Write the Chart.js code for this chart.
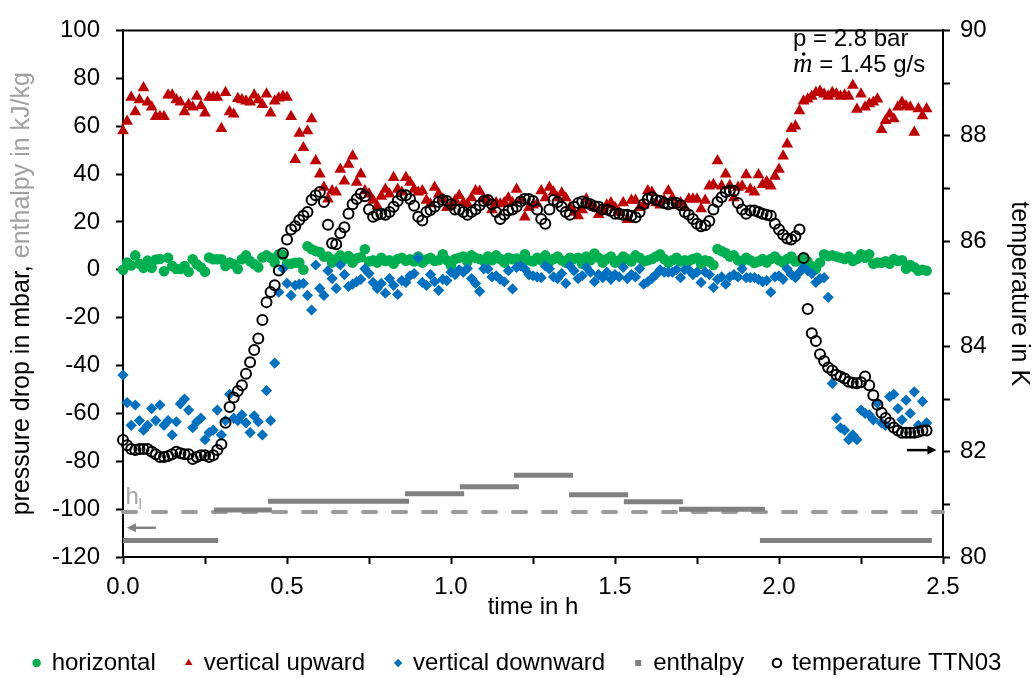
<!DOCTYPE html>
<html lang="en">
<head>
<meta charset="UTF-8">
<title>Pressure drop and temperature, p = 2.8 bar</title>
<style>
  html, body { margin: 0; padding: 0; background: #fff; }
  #wrap { width: 1035px; height: 678px; }
</style>
</head>
<body>
<div id="wrap"><canvas id="chart" width="1035" height="678"></canvas></div>
<script src="https://cdn.jsdelivr.net/npm/chart.js@4/dist/chart.umd.min.js"></script>
<script>
// samples every 45 s (0.0125 h), from 0 to 2.45 h
const STEP_H = 0.0125;

// pressure drop in mbar
const horizontal = [
  0, 3, 1.8, 6, 2.5, 0.8, 3.8, 0.8, 4.3, 4.5,
  -0.6, 5, 1.6, 0.3, 0.3, 1.6, -0.8, 4.4, 2.3, 1,
  -0.8, 5.1, 4.4, 4.4, 4.4, 1.6, 3, 2.3, 0.3, 4.4,
  6, 3.6, 2.3, 1, 5.1, 6, 5, 3, 6.5, 6.1,
  2.5, 2.5, 2.9, 3, 0, 9.8, 8.6, 7.8, 7.4, 5.5,
  5.5, 3, 4.5, 6, 4.4, 5.7, 3, 4.8, 5.2, 8.6,
  3.5, 4, 3, 5, 3.7, 4, 2.5, 4.5, 5, 3.8,
  4.4, 3.5, 5.5, 3, 4.3, 5, 3.7, 4, 6.5, 4,
  1.8, 4.5, 5, 5.5, 3.5, 6, 5, 4.5, 3.7, 5.5,
  4, 6, 4.5, 3, 5, 4.4, 4.7, 3.5, 6.5, 4,
  3.5, 5, 4, 6, 3.5, 4.5, 5.5, 4, 3, 5,
  4.5, 5, 2.5, 5.5, 4, 6.8, 5, 3, 4.5, 5.5,
  3, 4, 5.5, 4.5, 3.5, 6, 5, 3.5, 4, 4.5,
  5.5, 6.5, 4.5, 3, 4, 5, 3.5, 4, 3.7, 4.5,
  5, 2.5, 4, 3.5, 2, 8.7, 7.8, 7, 5.5, 6,
  4, 3.5, 5, 4, 2.8, 3.5, 4.5, 3, 4.5, 5.5,
  4, 3, 4.5, 5.5, 3.5, 4, 5, 3.5, 1.5, 0.4,
  3, 6.5, 5.7, 6, 5.5, 5, 4.5, 5.5, 3.7, 4.5,
  6.5, 5, 6.5, 2.5, 3, 2.9, 3.5, 2.5, 4.5, 3.7,
  4, 0.4, 2, 1, -0.4, 0, -0.4
];

const verticalUpward = [
  58, 62, 72, 66, 71, 76, 70, 68, 64, 64,
  64, 73, 73, 71, 70, 66, 69, 68, 72.5, 68.5,
  65.5, 72, 72, 72, 59, 74, 66, 65, 71.5, 71,
  70.5, 70, 73, 71, 69, 73.4, 65.5, 70.5, 71.7, 72.5,
  72, 64, 46, 57, 51, 58, 63, 45.5, 40, 34.4,
  29.5, 33, 32.4, 42, 37, 44, 47.5, 36.5, 40, 33,
  31.6, 29, 26.6, 30.7, 33.6, 31.6, 38.5, 33.6, 32.4, 38.5,
  36.5, 33.6, 32.4, 33, 29, 27.5, 34.4, 31.6, 29.5, 26,
  27, 29, 31, 28, 27.5, 30, 33, 32.8, 29.5, 29,
  25, 28, 27.5, 28, 30, 28, 33.6, 29, 22, 26,
  27, 27.5, 33, 30, 34.4, 32.4, 30, 32, 30, 26,
  24, 22.5, 25, 29.5, 27, 26, 23, 25, 27, 28,
  26, 24, 28, 21, 29, 29, 26, 27, 33, 32.4,
  28, 27, 29, 33, 30, 27, 28, 26, 29.5, 29.5,
  29.5, 25.4, 29, 35, 35.6, 45.5, 35, 40, 35.2, 30,
  34.4, 35, 39.7, 33.6, 32.4, 39.7, 35.6, 36.8, 35, 39,
  42, 47.5, 52.5, 59, 60, 66.4, 70.5, 71.3, 72.5, 74,
  74.6, 73.4, 72.5, 74, 73.4, 72.5, 73, 72.5, 77, 67,
  73.4, 68, 69.3, 70, 71.3, 58.6, 62.3, 65, 63, 68,
  70, 68.4, 68, 57.4, 67.2, 64.3, 67.2
];

const verticalDownward = [
  -44, -55.5, -65, -56.5, -63, -67, -65, -58, -63, -56.5,
  -65, -63, -69, -63.5, -56, -54, -58.6, -66, -63.5, -62,
  -71, -68, -67, -58.6, -69, -63, -52, -62, -63, -60.6,
  -64, -68, -61, -63.5, -69, -50.5, -63, -39, -9.4, 0.4,
  -5.7, -10.7, -6.5, -6, -5.7, -10.7, -16.8, 2, -7.8, -10.7,
  -0.4, -3.7, -7.8, 2, -2, -7, -6, -5, -4, 0.4,
  -1.6, -5.3, -7.8, -5.7, -9.8, -3.7, -6.5, -10.3, -4.5, -5.3,
  -2.5, -1.6, 5, -5.3, -6.5, -2, -5, -8.6, -4, -4.5,
  -1, -2, 0, -1, 0.5, -3.7, -5.7, -9, 0.4, 0.4,
  -3, -2.5, -4, -5, -0.4, -8, 1, 1.6, 0.4, -2,
  -2.5, -3, -3.3, 1.6, 0.4, -3, -3.7, -1.6, -5.7, 1.6,
  -0.4, -3.7, -2.5, 1, -1, -5, -2, -3.3, -1, -4,
  -2, -3, 1, -3.7, -2, -3, 0.4, -6, -5, -3.7,
  -2, 0, -1, -1, -1, 0, -3.3, 0, 0, -2,
  -1, -5.3, -1, -2, -7.4, -4, -3, -6, -3, -2,
  -3, 0.4, -3.3, -3.3, -3.3, -4, -5, -4.5, -9.4, -3,
  -2.5, -4, 0.4, -2, -3.3, -1, 1, -0.4, -1.6, -5.3,
  -3.7, -3.3, -11.5, -47.5, -62, -66, -67, -71, -69, -71,
  -58.6, -60, -60.6, -62.7, -55.7, -64, -65, -53, -52, -58,
  -62.7, -54.5, -60, -51, -65, -55, -64
];

// temperature TTN03 in K
const temperature = [
  82.22, 82.12, 82.05, 82.03, 82.05, 82.05, 82.05, 82.0, 81.95, 81.9,
  81.9, 81.92, 81.95, 82.0, 81.97, 81.95, 81.95, 81.86, 81.9, 81.93,
  81.93, 81.9, 81.93, 82.03, 82.14, 82.55, 82.85, 83.03, 83.15, 83.26,
  83.48, 83.7, 83.93, 84.15, 84.5, 84.84, 85.03, 85.16, 85.44, 85.77,
  86.03, 86.22, 86.28, 86.4, 86.48, 86.55, 86.78, 86.87, 86.93, 86.74,
  86.31, 85.96, 85.94, 86.15, 86.26, 86.52, 86.7, 86.8, 86.9, 86.85,
  86.6, 86.46, 86.5, 86.52, 86.5, 86.55, 86.65, 86.76, 86.87, 86.87,
  86.8, 86.67, 86.46, 86.39, 86.55, 86.59, 86.65, 86.74, 86.78, 86.76,
  86.7, 86.6, 86.6, 86.55, 86.5, 86.55, 86.6, 86.68, 86.76, 86.78,
  86.7, 86.55, 86.42, 86.5, 86.58, 86.6, 86.65, 86.75, 86.8, 86.8,
  86.76, 86.6, 86.42, 86.33, 86.6, 86.78, 86.74, 86.65, 86.55, 86.5,
  86.65, 86.72, 86.75, 86.72, 86.7, 86.66, 86.65, 86.6, 86.6, 86.57,
  86.52, 86.52, 86.5, 86.5, 86.48, 86.45, 86.55, 86.7, 86.8, 86.83,
  86.78, 86.76, 86.72, 86.7, 86.72, 86.72, 86.68, 86.55, 86.5, 86.42,
  86.33, 86.28, 86.3, 86.38, 86.6, 86.74, 86.83, 86.93, 86.96, 86.95,
  86.72, 86.6, 86.52, 86.58, 86.58, 86.55, 86.52, 86.5, 86.48, 86.33,
  86.22, 86.12, 86.05, 86.03, 86.09, 86.22, 85.68, 84.71, 84.25, 84.1,
  83.85, 83.72, 83.6, 83.54, 83.46, 83.43, 83.39, 83.33, 83.31, 83.3,
  83.32, 83.43, 83.26, 83.07, 82.89, 82.74, 82.64, 82.55, 82.46, 82.4,
  82.36, 82.36, 82.36, 82.36, 82.38, 82.4, 82.4
];

// enthalpy steps in kJ/kg (start h, end h, value)
const enthalpyStart = [0, 0.277, 0.442, 0.860, 1.027, 1.192, 1.360, 1.527, 1.695, 1.942];
const enthalpyEnd   = [0.290, 0.454, 0.872, 1.040, 1.207, 1.372, 1.540, 1.707, 1.957, 2.466];
const enthalpyValue = [-113.1, -100.4, -96.7, -93.6, -90.6, -85.8, -94.0, -96.9, -100.1, -113.1];
const liquidEnthalpy = -101.2;   // h_l

const FONT = '"Liberation Sans", Arial, sans-serif';
Chart.defaults.font.family = FONT;
Chart.defaults.font.size = 24;
Chart.defaults.color = '#000';

function toPoints(values) {
  return values.map((v, i) => ({ x: i * STEP_H, y: v }));
}

const enthalpyPoints = [];
enthalpyStart.forEach((s, i) => {
  enthalpyPoints.push({ x: s, y: enthalpyValue[i] });
  enthalpyPoints.push({ x: enthalpyEnd[i], y: enthalpyValue[i] });
  enthalpyPoints.push({ x: enthalpyEnd[i], y: null });
});

function arrow(ctx, x1, y, x2, color) {
  const dir = Math.sign(x2 - x1);
  ctx.strokeStyle = color;
  ctx.fillStyle = color;
  ctx.lineWidth = 2.5;
  ctx.beginPath();
  ctx.moveTo(x1, y);
  ctx.lineTo(x2 - dir * 6, y);
  ctx.stroke();
  ctx.beginPath();
  ctx.moveTo(x2, y);
  ctx.lineTo(x2 - dir * 9, y - 4.5);
  ctx.lineTo(x2 - dir * 9, y + 4.5);
  ctx.closePath();
  ctx.fill();
}

const overlay = {
  id: 'overlay',
  afterDraw(chart) {
    const { ctx, chartArea: a, scales } = chart;
    const x = scales.x, y = scales.y, yT = scales.yT;
    ctx.save();

    // top frame line
    ctx.strokeStyle = '#000';
    ctx.lineWidth = 2;
    ctx.beginPath();
    ctx.moveTo(a.left - 1, a.top);
    ctx.lineTo(a.right + 1, a.top);
    ctx.stroke();

    // left axis title, two colours
    ctx.font = '25px ' + FONT;
    const p1 = 'pressure drop in mbar, ';
    const p2 = 'enthalpy in kJ/kg';
    const w1 = ctx.measureText(p1).width;
    const w2 = ctx.measureText(p2).width;
    ctx.save();
    ctx.translate(29, (a.top + a.bottom) / 2);
    ctx.rotate(-Math.PI / 2);
    ctx.textAlign = 'left';
    ctx.textBaseline = 'alphabetic';
    ctx.fillStyle = '#000';
    ctx.fillText(p1, -(w1 + w2) / 2, 0);
    ctx.fillStyle = '#a0a0a0';
    ctx.fillText(p2, -(w1 + w2) / 2 + w1, 0);
    ctx.restore();

    // operating point
    ctx.textAlign = 'left';
    ctx.textBaseline = 'alphabetic';
    ctx.fillStyle = '#000';
    ctx.font = '24px ' + FONT;
    ctx.fillText('p = 2.8 bar', 793, 46);
    ctx.font = 'italic 27px "Liberation Serif", serif';
    const mw = ctx.measureText('m').width;
    ctx.fillText('m', 793, 72);
    ctx.beginPath();
    ctx.arc(793 + mw * 0.55, 54, 1.8, 0, Math.PI * 2);
    ctx.fill();
    ctx.font = '24px ' + FONT;
    ctx.fillText(' = 1.45 g/s', 793 + mw, 72);

    // h_l label
    ctx.fillStyle = '#a6a6a6';
    const hx = x.getPixelForValue(0.008);
    const hy = y.getPixelForValue(-98);
    ctx.font = '24px ' + FONT;
    ctx.fillText('h', hx, hy);
    ctx.font = '15px ' + FONT;
    ctx.fillText('l', hx + 13, hy + 5);

    // axis arrows
    arrow(ctx, x.getPixelForValue(0.1), y.getPixelForValue(-107.8), x.getPixelForValue(0.012), '#808080');
    arrow(ctx, x.getPixelForValue(2.39), yT.getPixelForValue(82.03), x.getPixelForValue(2.48), '#000');

    ctx.restore();
  }
};

const pointDefaults = { showLine: false, pointBorderWidth: 0, pointHoverRadius: 5, clip: false };

new Chart(document.getElementById('chart'), {
  type: 'scatter',
  data: {
    datasets: [
      Object.assign({}, pointDefaults, {
        label: 'horizontal', data: toPoints(horizontal), order: 5,
        pointStyle: 'circle', pointRadius: 5.3,
        backgroundColor: '#00b050', borderColor: '#00b050'
      }),
      Object.assign({}, pointDefaults, {
        label: 'vertical upward', data: toPoints(verticalUpward), order: 4,
        pointStyle: 'triangle', pointRadius: 6.8,
        backgroundColor: '#c00000', borderColor: '#c00000'
      }),
      Object.assign({}, pointDefaults, {
        label: 'vertical downward', data: toPoints(verticalDownward), order: 3,
        pointStyle: 'rectRot', pointRadius: 5.6,
        backgroundColor: '#0070c0', borderColor: '#0070c0'
      }),
      {
        label: 'enthalpy', data: enthalpyPoints, order: 1,
        showLine: true, spanGaps: false, clip: false,
        borderColor: '#808080', borderWidth: 5, borderCapStyle: 'butt',
        backgroundColor: '#808080', pointBackgroundColor: '#808080',
        pointStyle: 'rect', pointRadius: 0, pointBorderWidth: 0
      },
      {
        label: 'h_l', data: [{ x: 0, y: liquidEnthalpy }, { x: 2.5, y: liquidEnthalpy }], order: 2,
        showLine: true, clip: false,
        borderColor: '#9a9a9a', borderWidth: 4, borderDash: [13, 17], borderCapStyle: 'round',
        pointRadius: 0
      },
      {
        label: 'temperature TTN03', data: toPoints(temperature), order: 0, yAxisID: 'yT',
        showLine: false, clip: false,
        pointStyle: 'circle', pointRadius: 5, pointBorderWidth: 2,
        borderColor: '#000', pointBorderColor: '#000',
        backgroundColor: 'rgba(0,0,0,0)', pointBackgroundColor: 'rgba(0,0,0,0)'
      }
    ]
  },
  options: {
    responsive: false,
    animation: false,
    devicePixelRatio: 1,
    events: [],
    layout: { autoPadding: false, padding: { top: 21, right: 0, bottom: -7, left: 0 } },
    plugins: {
      tooltip: { enabled: false },
      legend: {
        position: 'bottom',
        align: 'center',
        labels: {
          usePointStyle: true,
          boxWidth: 6,
          boxHeight: 6,
          padding: 30,
          color: '#000',
          font: { size: 24 },
          filter: item => item.text !== 'h_l',
          sort: (a, b) => a.datasetIndex - b.datasetIndex
        }
      }
    },
    scales: {
      x: {
        type: 'linear',
        min: 0, max: 2.5,
        afterFit: s => { s.height = 64; },
        border: { color: '#000', width: 2 },
        grid: { drawOnChartArea: false, tickLength: 7, tickColor: '#000', tickWidth: 2 },
        ticks: {
          stepSize: 0.25, padding: 9, maxRotation: 0, autoSkip: false,
          callback: v => (Math.abs(v * 2 - Math.round(v * 2)) < 1e-6 ? v.toFixed(1) : '')
        },
        title: { display: true, text: 'time in h', font: { size: 24 }, padding: { top: 0, bottom: -1 } }
      },
      y: {
        position: 'left',
        min: -120, max: 100,
        afterFit: s => { s.width = 123; },
        border: { color: '#000', width: 2 },
        grid: { drawOnChartArea: false, tickLength: 7, tickColor: '#000', tickWidth: 2 },
        ticks: { stepSize: 20, padding: 16 }
      },
      yT: {
        position: 'right',
        min: 80, max: 90,
        afterFit: s => { s.width = 92; },
        border: { color: '#000', width: 2 },
        grid: { drawOnChartArea: false, tickLength: 7, tickColor: '#000', tickWidth: 2 },
        ticks: { stepSize: 1, padding: 10, callback: v => (v % 2 === 0 ? String(v) : '') },
        title: { display: true, text: 'temperature in K', font: { size: 25 }, padding: { top: 1, bottom: 0 } }
      }
    }
  },
  plugins: [overlay]
});
</script>
</body>
</html>
